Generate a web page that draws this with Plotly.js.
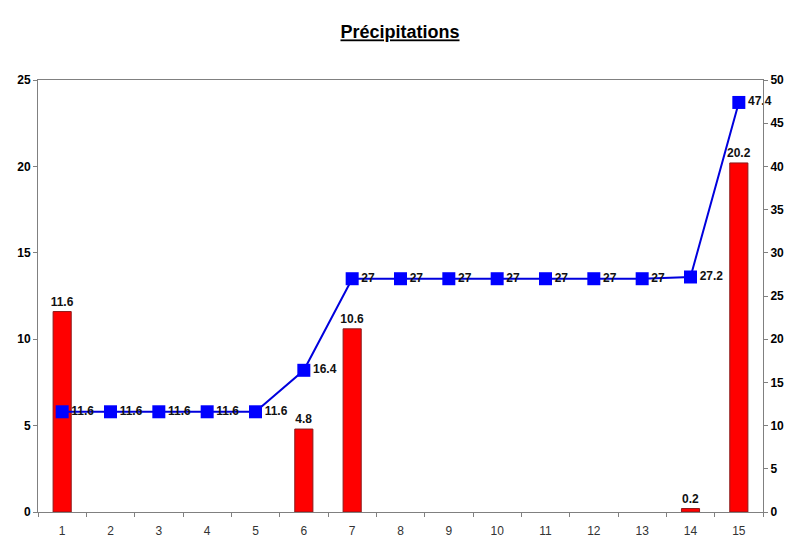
<!DOCTYPE html>
<html><head><meta charset="utf-8">
<script src="https://cdn.plot.ly/plotly-3.0.1.min.js"></script>
<style>html,body{margin:0;padding:0;background:#fff}#chart{width:800px;height:554px}</style>
</head><body><div id="chart"></div>
<script>
const categories = ['1','2','3','4','5','6','7','8','9','10','11','12','13','14','15'];
const dailyRain = [11.6,0,0,0,0,4.8,10.6,0,0,0,0,0,0,0.2,20.2];
const cumulRain = [11.6,11.6,11.6,11.6,11.6,16.4,27,27,27,27,27,27,27,27.2,47.4];
const leftTicks = [0,5,10,15,20,25];
const rightTicks = [0,5,10,15,20,25,30,35,40,45,50];

const bars = {
  type:'bar', x:categories, y:dailyRain, width:0.375,
  marker:{color:'#ff0000', line:{color:'#8b1a1a', width:dailyRain.map(v => v ? 1 : 0)}},
  text: dailyRain.map(v => v ? String(v) : ''),
  textposition:'outside', cliponaxis:false, constraintext:'none',
  textfont:{family:'Arial, Liberation Sans', size:12, color:'#111'},
  outsidetextfont:{family:'Arial, Liberation Sans', size:12, color:'#111'},
  texttemplate:'<b>%{text}</b>',
  hoverinfo:'skip', yaxis:'y'
};
const line = {
  type:'scatter', mode:'lines+markers+text', x:categories, y:cumulRain, yaxis:'y2',
  line:{color:'#0000dd', width:2},
  marker:{symbol:'square', size:13, color:'#0000ff'},
  text: cumulRain.map(v => '<b>'+v+'</b>'),
  textposition:'middle right', cliponaxis:false,
  textfont:{family:'Arial, Liberation Sans', size:12, color:'#111'},
  hoverinfo:'skip'
};
const layout = {
  width:800, height:554,
  margin:{l:38, r:37, t:80, b:42},
  paper_bgcolor:'#fff', plot_bgcolor:'#fff',
  showlegend:false,
  title:{text:'<b><u>Précipitations</u></b>', x:0.5, xanchor:'center', y:0.942, yanchor:'middle',
    font:{family:'Arial, Liberation Sans', size:18, color:'#000'}},
  xaxis:{type:'category', tickson:'boundaries', range:[-0.5,14.5],
    showline:true, linecolor:'#808080', linewidth:1, mirror:true,
    ticks:'outside', ticklen:4, tickcolor:'#808080', showgrid:false, ticklabelstandoff:8,
    tickfont:{family:'Arial, Liberation Sans', size:12, color:'#333'}},
  yaxis:{range:[0,25], tickvals:leftTicks, showline:true, linecolor:'#808080', linewidth:1,
    ticks:'outside', ticklen:4, tickcolor:'#808080', showgrid:false, zeroline:false,
    tickfont:{family:'Arial, Liberation Sans', size:12, color:'#000', weight:'bold'}},
  yaxis2:{range:[0,50], tickvals:rightTicks, overlaying:'y', side:'right',
    showline:true, linecolor:'#808080', linewidth:1,
    ticks:'outside', ticklen:4, tickcolor:'#808080', showgrid:false, zeroline:false,
    tickfont:{family:'Arial, Liberation Sans', size:12, color:'#000', weight:'bold'}}
};
Plotly.newPlot('chart',[bars,line],layout,{displayModeBar:false, staticPlot:true});
</script></body></html>
